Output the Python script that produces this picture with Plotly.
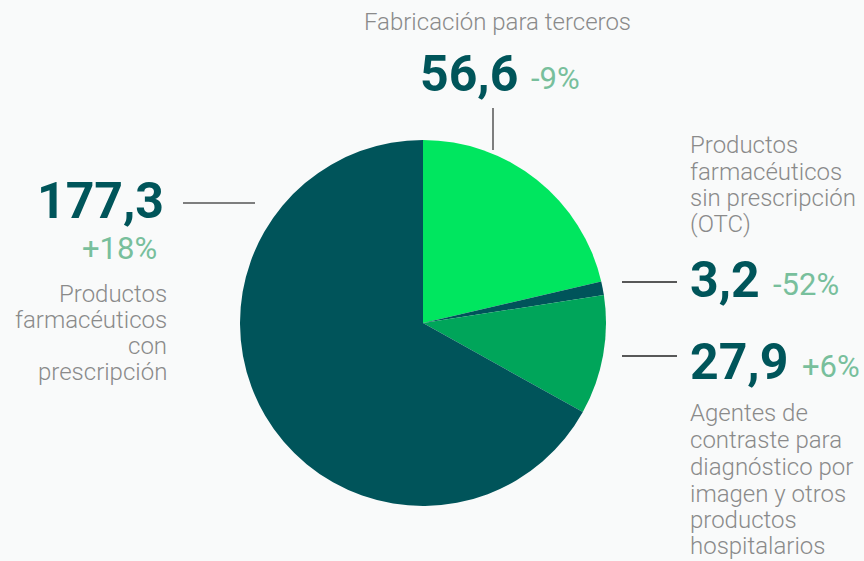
import plotly.graph_objects as go

# Data
categories = [
    "Fabricación para terceros",
    "Productos farmacéuticos sin prescripción (OTC)",
    "Agentes de contraste para diagnóstico por imagen y otros productos hospitalarios",
    "Productos farmacéuticos con prescripción",
]
values = [56.6, 3.2, 27.9, 177.3]
value_labels = ["56,6", "3,2", "27,9", "177,3"]
change_labels = ["-9%", "-52%", "+6%", "+18%"]
slice_colors = ["#00E65F", "#00545A", "#00A55A", "#00545A"]

W, H = 864, 561
NUM_COLOR = "#00555A"
PCT_COLOR = "#78BF9C"
TXT_COLOR = "#8A8A8A"
FONT = "Roboto"

fig = go.Figure()
fig.add_trace(go.Pie(
    values=values,
    labels=categories,
    sort=False,
    direction="clockwise",
    rotation=0,
    marker=dict(colors=slice_colors, line=dict(width=0)),
    textinfo="none",
    hoverinfo="none",
    showlegend=False,
    domain=dict(x=[238 / W, 608 / W], y=[(H - 506) / H, (H - 140) / H]),
))

ann = []

def txt(x, y, text, size, color, xanchor="left", weight=None):
    f = dict(family=FONT, size=size, color=color)
    if weight is not None:
        f["weight"] = weight
    ann.append(dict(x=x / W, y=1 - y / H, xref="paper", yref="paper", text=text,
                    showarrow=False, xanchor=xanchor, yanchor="middle", font=f))

# Top: Fabricación para terceros
txt(498, 22, categories[0], 24, TXT_COLOR, "center", 300)
txt(418, 74, value_labels[0], 50, NUM_COLOR, "left", 700)
txt(529, 78, change_labels[0], 31, PCT_COLOR, "left", 400)

# Right upper: OTC
for y, t in zip([145, 172, 198, 224], ["Productos", "farmacéuticos", "sin prescripción", "(OTC)"]):
    txt(688, y, t, 24, TXT_COLOR, "left", 300)
txt(688, 280, value_labels[1], 50, NUM_COLOR, "left", 700)
txt(771, 284, change_labels[1], 31, PCT_COLOR, "left", 400)

# Right lower: Agentes de contraste
txt(688, 362, value_labels[2], 50, NUM_COLOR, "left", 700)
txt(800, 366, change_labels[2], 31, PCT_COLOR, "left", 400)
for y, t in zip([413, 440, 467, 494, 520, 546],
                ["Agentes de", "contraste para", "diagnóstico por", "imagen y otros", "productos", "hospitalarios"]):
    txt(688, y, t, 24, TXT_COLOR, "left", 300)

# Left: con prescripción
txt(166, 201, value_labels[3], 50, NUM_COLOR, "right", 700)
txt(159, 248, change_labels[3], 31, PCT_COLOR, "right", 400)
for y, t in zip([294, 320, 346, 372], ["Productos", "farmacéuticos", "con", "prescripción"]):
    txt(169, y, t, 24, TXT_COLOR, "right", 300)

shapes = []

def line(x0, y0, x1, y1, color):
    shapes.append(dict(type="line", xref="paper", yref="paper",
                       x0=x0 / W, y0=1 - y0 / H, x1=x1 / W, y1=1 - y1 / H,
                       line=dict(color=color, width=1.5)))

line(493, 108, 493, 150, "#555555")
line(183, 203, 255, 203, "#555555")
line(622, 282, 677, 282, "#222222")
line(622, 356, 677, 356, "#222222")

fig.update_layout(
    width=W, height=H,
    margin=dict(l=0, r=0, t=0, b=0),
    paper_bgcolor="#F9FAFA",
    plot_bgcolor="#F9FAFA",
    annotations=ann,
    shapes=shapes,
)

fig.write_html(
    "out.html",
    config={"displayModeBar": False},
    post_script="document.body.style.margin='0';document.body.style.padding='0';document.body.style.overflow='hidden';",
)
